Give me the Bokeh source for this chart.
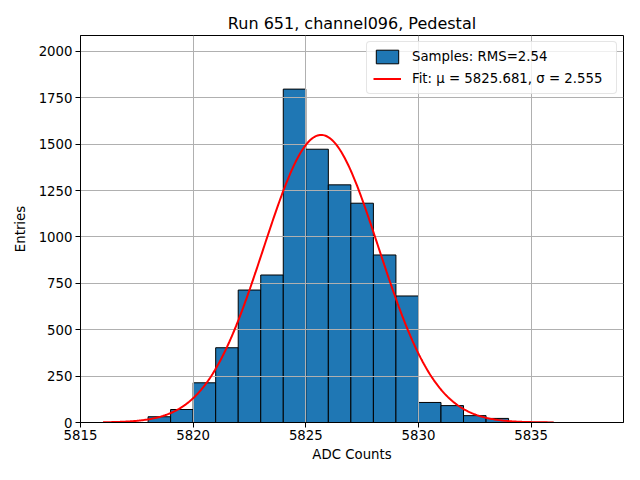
import numpy as np
from bokeh.plotting import figure
from bokeh.models import Range1d, FixedTicker, Legend, LegendItem
from bokeh.embed import file_html
from bokeh.resources import INLINE

# ---- data ----
bin_left = [5816, 5817, 5818, 5819, 5820, 5821, 5822, 5823, 5824, 5825, 5826,
            5827, 5828, 5829, 5830, 5831, 5832, 5833, 5834, 5835, 5836, 5837]
bin_right = [5817, 5818, 5819, 5820, 5821, 5822, 5823, 5824, 5825, 5826, 5827,
             5828, 5829, 5830, 5831, 5832, 5833, 5834, 5835, 5836, 5837, 5838]
counts = [0, 0, 31, 70, 214, 403, 714, 795, 1797, 1473, 1281,
          1182, 903, 682, 108, 91, 37, 22, 5, 1, 0, 0]

fit_mu = 5825.681
fit_sigma = 2.555
fit_amp = 1550.0
fit_x_min = 5816
fit_x_max = 5836

x_ticks = [5815, 5820, 5825, 5830, 5835]
y_ticks = [0, 250, 500, 750, 1000, 1250, 1500, 1750, 2000]

title_text = "Run 651, channel096, Pedestal"
x_label = "ADC Counts"
y_label = "Entries"
bar_label = "Samples: RMS=2.54"
fit_label = "Fit: \u03bc = 5825.681, \u03c3 = 2.555"

FONT = "DejaVu Sans"
FS = "13.3px"

fit_x = np.linspace(fit_x_min, fit_x_max, 400)
fit_y = fit_amp * np.exp(-0.5 * ((fit_x - fit_mu) / fit_sigma) ** 2)

p = figure(width=624, height=464, output_backend="svg", toolbar_location=None,
           x_range=Range1d(5815, 5839.1), y_range=Range1d(0, 2086),
           min_border_left=80, min_border_right=1, min_border_top=35,
           min_border_bottom=42)

p.background_fill_color = "white"
p.border_fill_color = "white"
p.outline_line_color = "black"
p.outline_line_width = 1

p.title.text = title_text
p.title.align = "center"
p.title.text_font = FONT
p.title.text_font_size = "16px"
p.title.text_font_style = "normal"
p.title.text_color = "black"
p.title.standoff = 6

r_bar = p.quad(left=bin_left, right=bin_right, top=counts, bottom=0,
               fill_color="#1f77b4", line_color="black", line_width=1)
r_bar.level = "image"
r_line = p.line(fit_x, fit_y, line_color="red", line_width=2)

for ax in (p.xaxis[0], p.yaxis[0]):
    ax.major_label_text_font = FONT
    ax.major_label_text_font_size = FS
    ax.major_label_text_color = "black"
    ax.axis_label_text_font = FONT
    ax.axis_label_text_font_size = FS
    ax.axis_label_text_font_style = "normal"
    ax.axis_label_text_color = "black"
    ax.axis_line_color = "black"
    ax.major_tick_line_color = "black"
    ax.major_tick_out = 5
    ax.major_tick_in = 0
    ax.minor_tick_out = 0
    ax.minor_tick_in = 0

p.xaxis.major_label_standoff = 2
p.yaxis.major_label_standoff = 3
p.xaxis.ticker = FixedTicker(ticks=x_ticks)
p.yaxis.ticker = FixedTicker(ticks=y_ticks)
p.xaxis.axis_label = x_label
p.yaxis.axis_label = y_label
p.xaxis.axis_label_standoff = 4
p.yaxis.axis_label_standoff = 8

for g in (p.xgrid[0], p.ygrid[0]):
    g.grid_line_color = "#b0b0b0"
    g.grid_line_width = 1
p.xgrid.ticker = FixedTicker(ticks=x_ticks)
p.ygrid.ticker = FixedTicker(ticks=y_ticks)

legend = Legend(items=[LegendItem(label=bar_label, renderers=[r_bar]),
                       LegendItem(label=fit_label, renderers=[r_line])],
                location="top_right")
legend.margin = 6
legend.padding = 6
legend.spacing = 5
legend.glyph_width = 28
legend.glyph_height = 17
legend.label_standoff = 11
legend.label_width = 198
legend.label_text_font = FONT
legend.label_text_font_size = FS
legend.label_text_color = "black"
legend.border_line_color = "#cccccc"
legend.border_line_width = 1
legend.border_radius = 4
legend.background_fill_alpha = 0.8
p.add_layout(legend)

open("out.html", "w").write(file_html(p, INLINE))
